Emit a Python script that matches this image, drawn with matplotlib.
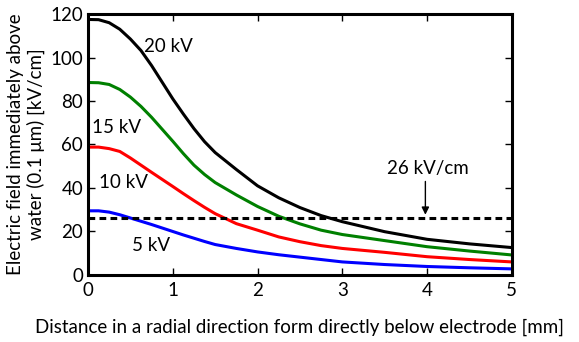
import matplotlib
matplotlib.use("Agg")
import matplotlib.pyplot as plt

plt.rcParams['font.family'] = ['Lato', 'DejaVu Sans']

# Distance in a radial direction [mm]
distance = [0, 0.125, 0.25, 0.375, 0.5, 0.625, 0.75, 1.0, 1.125, 1.25, 1.375,
            1.5, 1.75, 2.0, 2.25, 2.5, 2.75, 3.0, 3.5, 4.0, 4.5, 5.0]

# Electric field immediately above water [kV/cm], one list per voltage
field_20kv = [117.5, 117.4, 116, 113, 108.5, 103.2, 96.3, 81, 74, 67.3, 61.3,
              56.3, 48.5, 41, 35.5, 31, 27.3, 24.5, 19.9, 16.4, 14.3, 12.6]
field_15kv = [88.5, 88.4, 87.6, 85.3, 81.8, 77.5, 72.5, 61.5, 55.8, 50.5,
              46.2, 42.5, 36.8, 31.5, 27, 23.5, 20.6, 18.6, 15.8, 13, 11, 9.2]
field_10kv = [58.8, 58.8, 58.1, 56.8, 53.8, 50.5, 47.2, 40.7, 37.4, 34.2,
              31.1, 28.2, 23.6, 20.6, 17.5, 15.3, 13.5, 12.2, 10.4, 8.4, 7.1,
              6.0]
field_5kv = [29.5, 29.5, 28.9, 27.7, 26.2, 24.7, 23.2, 20, 18.4, 16.9, 15.4,
             14, 12.2, 10.6, 9.3, 8.2, 7.1, 6.0, 4.8, 3.9, 3.3, 2.8]

threshold = 26  # kV/cm

FS = 13.5

fig = plt.figure(figsize=(5.79, 3.42), dpi=100)
ax = fig.add_axes([0.152, 0.196, 0.732, 0.763])

ax.plot(distance, field_20kv, color="black", linewidth=2.2)
ax.plot(distance, field_15kv, color="green", linewidth=2.2)
ax.plot(distance, field_10kv, color="red", linewidth=2.2)
ax.plot(distance, field_5kv, color="blue", linewidth=2.2)
ax.axhline(threshold, color="black", linestyle=(0, (2.2, 1.4)), linewidth=2.2)

# Curve labels
ax.text(0.95, 105, "20 kV", fontsize=FS, ha="center", va="center")
ax.text(0.34, 68, "15 kV", fontsize=FS, ha="center", va="center")
ax.text(0.42, 42.3, "10 kV", fontsize=FS, ha="center", va="center")
ax.text(0.74, 13.5, "5 kV", fontsize=FS, ha="center", va="center")
ax.text(4.01, 49, "26 kV/cm", fontsize=FS, ha="center", va="center")
ax.annotate("", xy=(3.98, 27.7), xytext=(3.98, 43),
            arrowprops=dict(arrowstyle="-|>", color="black", lw=1,
                            mutation_scale=11, shrinkA=0, shrinkB=0))

ax.set_xlim(0, 5)
ax.set_ylim(0, 120)
ax.set_xticks([0, 1, 2, 3, 4, 5])
ax.set_yticks([0, 20, 40, 60, 80, 100, 120])
ax.tick_params(direction="in", top=True, right=True, labelsize=FS,
               length=5, width=1)
ax.tick_params(axis="x", pad=5)
for spine in ax.spines.values():
    spine.set_linewidth(2.2)

ax.set_ylabel("Electric field immediately above\nwater (0.1 \u03bcm) [kV/cm]",
              fontsize=FS, labelpad=4)
ax.set_xlabel("Distance in a radial direction form directly below electrode [mm]",
              fontsize=FS, labelpad=14)

fig.savefig("out.png", dpi=100)
